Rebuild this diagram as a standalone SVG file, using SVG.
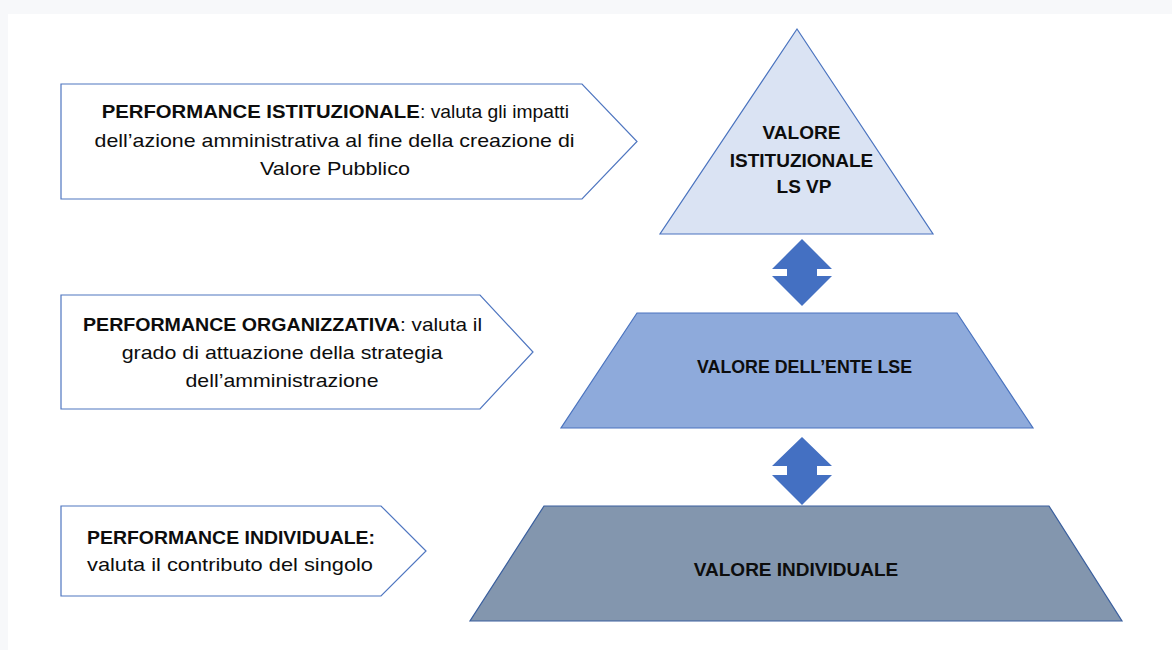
<svg xmlns="http://www.w3.org/2000/svg" width="1172" height="650" viewBox="0 0 1172 650">
  <style>
    .page { fill: #f7f8fa; }
    .card { fill: #ffffff; }
    .callout { fill: #ffffff; stroke: #4f76c0; stroke-width: 1.2; }
    .tri { fill: #dae3f3; stroke: #4a73bf; stroke-width: 1.2; }
    .mid { fill: #8eaadb; stroke: #4a73bf; stroke-width: 1.2; }
    .base { fill: #8396ae; stroke: #3a5f9e; stroke-width: 1.2; }
    .link { fill: #4470c2; }
    text { font-family: "Liberation Sans", Arial, sans-serif; fill: #0d0d0d; }
    .lbl { font-size: 19px; }
    .b { font-weight: bold; }
    .level { font-size: 19px; font-weight: bold; text-anchor: middle; }
  </style>

  <!-- page and card -->
  <rect class="page" x="0" y="0" width="1172" height="650"/>
  <rect class="card" x="8" y="14" width="1164" height="636"/>

  <!-- left-hand description callouts -->
  <g id="callout-istituzionale">
    <path class="callout" d="M61,84 H582 L637,141.5 L582,199 H61 Z"/>
    <text class="lbl" y="118">
      <tspan class="b" x="101.7" textLength="318" lengthAdjust="spacingAndGlyphs">PERFORMANCE ISTITUZIONALE</tspan><tspan x="420" textLength="149" lengthAdjust="spacingAndGlyphs">: valuta gli impatti</tspan>
    </text>
    <text class="lbl" x="94.6" y="147" textLength="480" lengthAdjust="spacingAndGlyphs">dell’azione amministrativa al fine della creazione di</text>
    <text class="lbl" x="260" y="175" textLength="150" lengthAdjust="spacingAndGlyphs">Valore Pubblico</text>
  </g>

  <g id="callout-organizzativa">
    <path class="callout" d="M61,295 H480 L533,352 L480,409 H61 Z"/>
    <text class="lbl" y="331">
      <tspan class="b" x="83" textLength="317" lengthAdjust="spacingAndGlyphs">PERFORMANCE ORGANIZZATIVA</tspan><tspan x="400" textLength="82" lengthAdjust="spacingAndGlyphs">: valuta il</tspan>
    </text>
    <text class="lbl" x="121.7" y="359" textLength="321" lengthAdjust="spacingAndGlyphs">grado di attuazione della strategia</text>
    <text class="lbl" x="185.5" y="387" textLength="193" lengthAdjust="spacingAndGlyphs">dell’amministrazione</text>
  </g>

  <g id="callout-individuale">
    <path class="callout" d="M61,506 H381 L426,551 L381,596 H61 Z"/>
    <text class="lbl b" x="87" y="544" textLength="288" lengthAdjust="spacingAndGlyphs">PERFORMANCE INDIVIDUALE:</text>
    <text class="lbl" x="87" y="571" textLength="286" lengthAdjust="spacingAndGlyphs">valuta il contributo del singolo</text>
  </g>

  <!-- pyramid levels -->
  <g id="level-istituzionale">
    <path class="tri" d="M797,29 L933,234 H660 Z"/>
    <text class="level" x="801.5" y="139">VALORE</text>
    <text class="level" x="801.5" y="167">ISTITUZIONALE</text>
    <text class="level" x="804" y="193">LS VP</text>
  </g>

  <g id="level-ente">
    <path class="mid" d="M637,313 H957 L1033,428 H561 Z"/>
    <text class="level" x="804.5" y="373" textLength="215" lengthAdjust="spacingAndGlyphs">VALORE DELL’ENTE LSE</text>
  </g>

  <g id="level-individuale">
    <path class="base" d="M544,506 H1049 L1122,621 H470 Z"/>
    <text class="level" x="796" y="576">VALORE INDIVIDUALE</text>
  </g>

  <!-- two-way links between levels -->
  <g id="connectors">
    <path class="link" d="M802,239 L832,269 H817 V276 H832 L802,306 L772,276 H787 V269 H772 Z"/>
    <path class="link" d="M802,437 L832,466 H817 V475 H832 L802,505 L772,475 H787 V466 H772 Z"/>
  </g>
</svg>
